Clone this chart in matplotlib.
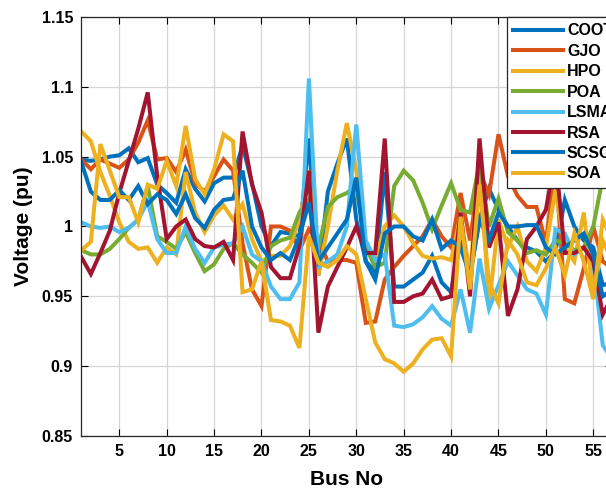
"""Bus voltage profile for the compared optimisers"""

import numpy as np
import matplotlib.pyplot as plt
from matplotlib.ticker import FuncFormatter

buses = np.arange(1, 58)

coot = [1.048, 1.047, 1.048, 1.050, 1.051, 1.056, 1.046, 1.049, 1.030, 1.024,
        1.017, 1.041, 1.027, 1.018, 1.031, 1.035, 1.035, 1.058, 1.031, 1.000,
        0.986, 0.996, 0.995, 0.993, 1.063, 0.965, 1.025, 1.045, 1.063, 1.005,
        0.975, 0.968, 1.039, 0.957, 0.957, 0.962, 0.967, 0.979, 0.960, 0.953,
        0.990, 0.965, 1.005, 1.027, 1.012, 1.000, 0.990, 0.985, 0.982, 0.975,
        0.982, 1.019, 1.000, 0.990, 0.985, 0.958, 0.960]
gjo = [1.048, 1.041, 1.048, 1.045, 1.042, 1.048, 1.060, 1.076, 1.048, 1.049,
       1.039, 1.055, 1.031, 1.025, 1.036, 1.048, 1.040, 0.988, 0.955, 0.943,
       1.000, 1.000, 0.997, 0.983, 0.998, 0.990, 0.975, 0.976, 0.976, 0.974,
       0.931, 0.932, 0.962, 0.971, 0.979, 0.986, 0.993, 1.005, 0.993, 0.985,
       1.024, 0.990, 1.039, 1.023, 1.066, 1.036, 1.022, 1.014, 1.014, 0.988,
       1.045, 0.948, 0.945, 0.970, 1.000, 0.975, 0.970]
hpo = [1.068, 1.061, 1.039, 1.022, 1.003, 0.989, 0.984, 0.985, 0.974, 0.985,
       0.980, 1.039, 1.010, 0.996, 1.008, 1.015, 1.005, 1.016, 0.991, 0.975,
       0.979, 0.979, 0.986, 1.005, 1.040, 0.965, 1.000, 1.040, 1.074, 1.040,
       0.983, 0.976, 1.000, 1.008, 1.000, 0.988, 0.979, 0.977, 0.978, 0.976,
       1.008, 0.965, 1.050, 0.943, 1.005, 0.985, 1.000, 0.975, 0.968, 0.985,
       1.026, 0.985, 0.975, 1.010, 0.950, 0.990, 0.975]
poa = [0.983, 0.980, 0.980, 0.984, 0.991, 0.999, 1.005, 1.029, 0.993, 0.989,
       0.984, 0.996, 0.981, 0.968, 0.973, 0.984, 0.988, 0.980, 0.974, 0.967,
       0.986, 0.990, 0.992, 1.010, 1.019, 0.985, 1.014, 1.021, 1.024, 1.029,
       0.985, 0.971, 0.974, 1.029, 1.040, 1.033, 1.017, 0.998, 1.015, 1.031,
       1.012, 1.010, 1.046, 1.000, 1.020, 0.996, 0.990, 0.981, 0.983, 0.980,
       0.990, 0.988, 0.983, 0.985, 1.000, 1.035, 1.060]
lsma = [1.003, 1.000, 0.999, 1.000, 0.996, 0.999, 1.005, 1.018, 0.991, 0.981,
        0.981, 1.000, 0.984, 0.974, 0.985, 0.987, 0.988, 1.000, 0.980, 0.975,
        0.957, 0.948, 0.948, 0.960, 1.106, 0.971, 0.975, 0.980, 1.000, 1.073,
        0.990, 0.976, 0.980, 0.929, 0.928, 0.930, 0.935, 0.943, 0.934, 0.929,
        0.955, 0.924, 0.977, 0.941, 0.958, 0.975, 0.965, 0.955, 0.952, 0.937,
        0.998, 0.995, 0.980, 0.985, 0.975, 0.915, 0.905]
rsa = [0.978, 0.966, 0.981, 0.997, 1.024, 1.047, 1.070, 1.096, 1.036, 0.991,
       1.000, 1.005, 0.991, 0.986, 0.985, 0.989, 0.976, 1.068, 1.030, 1.010,
       0.971, 0.963, 0.963, 0.986, 1.040, 0.924, 0.957, 0.971, 0.985, 1.000,
       0.981, 0.981, 1.063, 0.946, 0.946, 0.950, 0.952, 0.962, 0.948, 0.950,
       1.010, 0.950, 1.063, 0.985, 1.003, 0.936, 0.955, 0.991, 1.000, 1.012,
       1.050, 0.981, 0.981, 0.985, 0.975, 0.937, 0.950]
scso = [1.046, 1.025, 1.019, 1.019, 1.026, 1.019, 1.029, 1.016, 1.023, 1.019,
        1.009, 1.023, 1.006, 0.999, 1.012, 1.019, 1.020, 1.040, 1.000, 0.985,
        0.976, 0.981, 0.976, 0.993, 1.017, 0.975, 0.985, 0.995, 1.005, 1.035,
        0.975, 0.962, 0.995, 1.000, 1.000, 0.993, 0.990, 1.005, 0.984, 0.990,
        0.985, 0.965, 1.005, 0.990, 1.010, 1.000, 1.000, 1.001, 1.001, 0.985,
        0.980, 0.985, 0.990, 0.995, 0.980, 0.950, 0.955]
soa = [0.983, 0.989, 1.059, 1.040, 1.021, 1.021, 1.003, 1.030, 1.027, 1.047,
       1.029, 1.072, 1.034, 1.023, 1.041, 1.066, 1.061, 0.953, 0.955, 0.975,
       0.933, 0.932, 0.929, 0.913, 0.993, 0.974, 0.971, 0.976, 0.986, 0.980,
       0.948, 0.917, 0.905, 0.902, 0.896, 0.902, 0.912, 0.919, 0.920, 0.907,
       1.007, 0.955, 1.030, 0.960, 0.945, 0.990, 0.980, 0.960, 0.958, 0.970,
       0.985, 0.965, 0.995, 0.975, 0.948, 1.005, 0.990]

names = ["COOT", "GJO", "HPO", "POA", "LSMA", "RSA", "SCSO", "SOA"]
colors = ["#0072BD", "#D95319", "#EDB120", "#77AC30",
          "#4DBEEE", "#A2142F", "#0072BD", "#EDB120"]
y_ticks = [0.85, 0.9, 0.95, 1.0, 1.05, 1.1, 1.15]
x_ticks = [5, 10, 15, 20, 25, 30, 35, 40, 45, 50, 55]


def main():
    plt.rcParams["font.family"] = ["Liberation Sans", "DejaVu Sans"]
    plt.rcParams["font.weight"] = "bold"

    fig = plt.figure(figsize=(6.06, 4.91), dpi=100)
    # axes run slightly past the right edge of the canvas
    ax = fig.add_axes([0.1343, 0.1120, 0.876, 0.8534])

    series = [coot, gjo, hpo, poa, lsma, rsa, scso, soa]
    for vals, name, col in zip(series, names, colors):
        ax.plot(buses, vals, color=col, lw=2.9, label=name,
                solid_joinstyle="miter")

    ax.set_xlim(1, 57)
    ax.set_ylim(0.85, 1.15)
    ax.set_xticks(x_ticks)
    ax.set_yticks(y_ticks)
    ax.yaxis.set_major_formatter(FuncFormatter(lambda v, _: f"{v:g}"))
    ax.tick_params(direction="in", length=5, width=0.8, labelsize=11.5,
                   top=True, right=True, pad=6)
    for lab in ax.get_xticklabels() + ax.get_yticklabels():
        lab.set_fontweight("bold")
    for sp in ax.spines.values():
        sp.set_linewidth(0.9)
        sp.set_color("#262626")
    ax.grid(True, color="#d6d6d6", lw=0.9)
    ax.set_axisbelow(True)

    ax.set_xlabel("Bus No", fontsize=15, fontweight="bold", labelpad=8)
    ax.set_ylabel("Voltage (pu)", fontsize=15, fontweight="bold", labelpad=6)

    leg = ax.legend(loc="upper left", bbox_to_anchor=(507 / 606, 1 - 17 / 491),
                    bbox_transform=fig.transFigure, borderaxespad=0,
                    fancybox=False, framealpha=1, edgecolor="#262626",
                    prop={"size": 11.5, "weight": "bold"},
                    handlelength=3.1, handletextpad=0.25, labelspacing=0.34,
                    borderpad=0.4)
    leg.get_frame().set_linewidth(0.9)

    fig.savefig("out.png", dpi=100)
    plt.close(fig)


if __name__ == "__main__":
    main()
